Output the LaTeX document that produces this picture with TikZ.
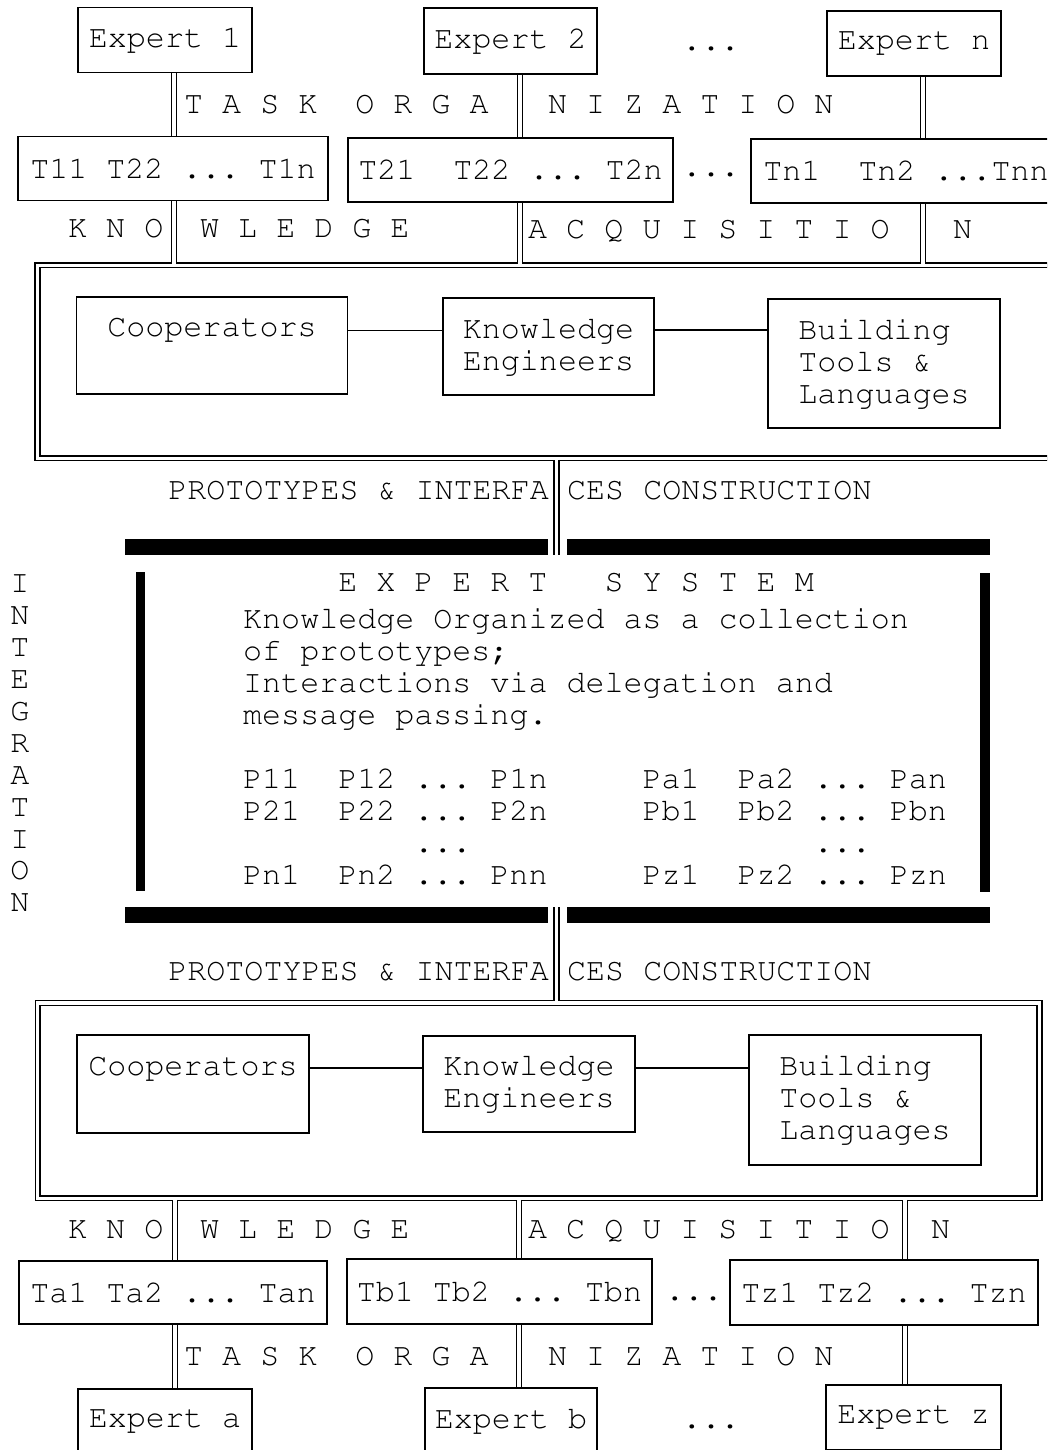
\documentclass[tikz,border=0pt]{standalone}
\usepackage[T1]{fontenc}
\usepackage{courier}
\renewcommand{\familydefault}{\ttdefault}

\begin{document}
\begin{tikzpicture}[
        x=1pt, y=-1pt,
        font={\fontsize{31.7}{31.9}\selectfont\frenchspacing},
        box/.style={rectangle, draw, line width=1.8pt, inner sep=0pt, align=center},
        expert/.style={box, minimum width=174pt, minimum height=65pt},
        task/.style={box, minimum height=64pt},
        kbframe/.style={rectangle, draw, double, double distance=3.4pt, line width=1.5pt, outer sep=0pt, inner sep=0pt},
        link/.style={double, double distance=3.4pt, line width=1.5pt},
        wire/.style={line width=1.8pt},
        lbl/.style={inner sep=0pt, anchor=base west},
        dotlbl/.style={inner sep=0pt, anchor=base}
    ]
    \useasboundingbox (0,0) rectangle (1047,1450);
    \clip (0,0) rectangle (1047,1450);

    % Experts (top)
    \node[expert] (e1) at (165,40) {Expert 1};
    \node[expert, minimum width=173pt, minimum height=66pt] (e2) at (510.5,41) {Expert 2};
    \node[expert] (en) at (914,43.5) {Expert n};
    \node[dotlbl] (edots) at (711,51) {...};

    % Tasks (top)
    \node[task, minimum width=310pt] (t11) at (173,168.5) {T11 T22 ... T1n};
    \node[task, minimum width=325pt] (t21) at (510.5,170) {T21~~T22 ... T2n};
    \node[dotlbl] (tdots) at (711,177) {...};
    \node[task, anchor=west, minimum width=310pt] (tn) at (750,171) {Tn1~~Tn2 ...Tnn};

    % Labels (top)
    \node[lbl] (task1) at (184,113.5) {T A S K~~O R G A};
    \node[lbl] (org1) at (548,113.5) {N I Z A T I O N};
    \node[lbl] (know1) at (68,237) {K N O};
    \node[lbl] (wl1) at (200,237) {W L E D G E};
    \node[lbl] (acq1) at (528,238) {A C Q U I S I T I O};
    \node[lbl] (n1) at (953,238) {N};

    % Knowledge frame (top)
    \node[kbframe, minimum width=1038pt, minimum height=193pt] (kb1) at (556.5,361.7) {};
    \node[box, minimum width=271pt, minimum height=97pt] (coop1) at (212,345.5) {Cooperators\\\phantom{Engineers}};
    \node[box, minimum width=211pt, minimum height=97pt] (ke1) at (548.5,346.5) {Knowledge\\Engineers};
    \node[box, minimum width=232pt, minimum height=129pt, align=left] (bt1) at (884,363.5) {Building\\Tools \&\\Languages};

    \draw[wire] ([yshift=15pt]coop1.east) -- ([yshift=15pt]coop1.east -| ke1.west);
    \draw[wire] ([yshift=16.5pt]ke1.east) -- ([yshift=16.5pt]ke1.east -| bt1.west);

    % Columns of the links
    \coordinate (c1) at (174,0);
    \coordinate (c2) at (520,0);
    \coordinate (c3) at (923,0);
    \coordinate (d1) at (175,0);
    \coordinate (d2) at (519,0);
    \coordinate (d3) at (905,0);

    \draw[link] (e1.south -| c1) -- (t11.north -| c1);
    \draw[link] (e2.south -| c2) -- (t21.north -| c2);
    \draw[link] (en.south -| c3) -- (tn.north -| c3);
    \draw[link, shorten >=1.7pt] (t11.south -| c1) -- (kb1.north -| c1);
    \draw[link, shorten >=1.7pt] (t21.south -| c2) -- (kb1.north -| c2);
    \draw[link, shorten >=1.7pt] (tn.south -| c3) -- (kb1.north -| c3);

    % Expert system
    \foreach \y in {539,907} {
        \fill (125,\y) rectangle (548,\y+16);
        \fill (567,\y) rectangle (990,\y+16);
    }
    \fill (136,572) rectangle (145,891);
    \fill (980,573) rectangle (990,892);

    \coordinate (estop) at (556.5,555);
    \coordinate (esbot) at (556.5,907);
    \draw[link, shorten <=1.7pt] (kb1.south) -- (estop);

    \node[lbl, anchor=base east] (proto1) at (549,499) {PROTOTYPES \& INTERFA};
    \node[lbl] (cons1) at (567,499) {CES CONSTRUCTION};

    \node[inner sep=0pt, anchor=north west, align=left] (es) at (243,572) {%
        ~~~~~E X P E R T~~~S Y S T E M\\[6pt]
        Knowledge Organized as a collection\\
        of prototypes;\\
        Interactions via delegation and\\
        message passing.\\
        ~\\
        P11~~P12 ... P1n~~~~~Pa1~~Pa2 ... Pan\\
        P21~~P22 ... P2n~~~~~Pb1~~Pb2 ... Pbn\\
        ~~~~~~~~~...~~~~~~~~~~~~~~~~~~...\\
        Pn1~~Pn2 ... Pnn~~~~~Pz1~~Pz2 ... Pzn};

    \node[inner sep=0pt, anchor=north, align=center] (integ) at (20,575) {I\\N\\T\\E\\G\\R\\A\\T\\I\\O\\N};

    \node[lbl, anchor=base east] (proto2) at (549,980) {PROTOTYPES \& INTERFA};
    \node[lbl] (cons2) at (567,980) {CES CONSTRUCTION};

    % Knowledge frame (bottom)
    \node[kbframe, minimum width=1001.8pt, minimum height=195.1pt] (kb2) at (538.6,1100.65) {};
    \node[box, minimum width=232pt, minimum height=98pt] (coop2) at (193,1084) {Cooperators\\\phantom{Engineers}};
    \node[box, minimum width=212pt, minimum height=96pt] (ke2) at (529,1084) {Knowledge\\Engineers};
    \node[box, minimum width=232pt, minimum height=130pt, align=left] (bt2) at (865,1100) {Building\\Tools \&\\Languages};

    \draw[wire] ([yshift=16pt]coop2.east) -- ([yshift=16pt]coop2.east -| ke2.west);
    \draw[wire] ([yshift=16pt]ke2.east) -- ([yshift=16pt]ke2.east -| bt2.west);

    \draw[link, shorten >=1.7pt] (esbot) -- (esbot |- kb2.north);

    % Labels (bottom)
    \node[lbl] (know2) at (68,1238) {K N O};
    \node[lbl] (wl2) at (200,1238) {W L E D G E};
    \node[lbl] (acq2) at (528,1238) {A C Q U I S I T I O};
    \node[lbl] (n2) at (931,1238) {N};
    \node[lbl] (task2) at (184,1365) {T A S K~~O R G A};
    \node[lbl] (org2) at (548,1365) {N I Z A T I O N};

    % Tasks (bottom)
    \node[task, minimum width=308pt, minimum height=63pt] (ta) at (173,1292.5) {Ta1 Ta2 ... Tan};
    \node[task, minimum width=305pt, minimum height=65pt] (tb) at (499.5,1291.5) {Tb1 Tb2 ... Tbn};
    \node[dotlbl] (tdots2) at (694,1300) {...};
    \node[task, minimum width=308pt, minimum height=65pt] (tz) at (884,1292.5) {Tz1 Tz2 ... Tzn};

    % Experts (bottom)
    \node[expert] (ea) at (165,1421.5) {Expert a};
    \node[expert, minimum width=172pt] (eb) at (511,1420.5) {Expert b};
    \node[expert, minimum width=175pt] (ez) at (913.5,1417.5) {Expert z};
    \node[dotlbl] (edots2) at (711,1428) {...};

    \draw[link, shorten <=1.7pt] (kb2.south -| d1) -- (ta.north -| d1);
    \draw[link, shorten <=1.7pt] (kb2.south -| d2) -- (tb.north -| d2);
    \draw[link, shorten <=1.7pt] (kb2.south -| d3) -- (tz.north -| d3);
    \draw[link] (ta.south -| d1) -- (ea.north -| d1);
    \draw[link] (tb.south -| d2) -- (eb.north -| d2);
    \draw[link] (tz.south -| d3) -- (ez.north -| d3);

\end{tikzpicture}
\end{document}
